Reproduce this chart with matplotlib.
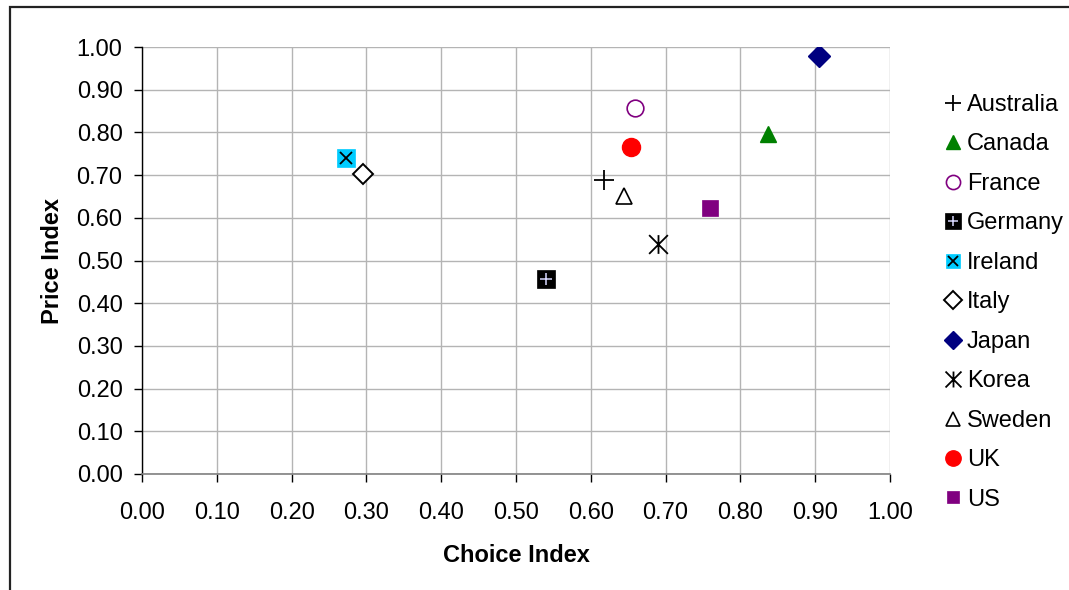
import matplotlib
matplotlib.use("Agg")
import matplotlib.pyplot as plt
from matplotlib.path import Path
from matplotlib.patches import Rectangle

plt.rcParams["font.family"] = ["Liberation Sans", "DejaVu Sans"]

countries = ["Australia", "Canada", "France", "Germany", "Ireland", "Italy",
             "Japan", "Korea", "Sweden", "UK", "US"]
choice_index = [0.617, 0.837, 0.659, 0.540, 0.273, 0.295, 0.905, 0.690, 0.645, 0.654, 0.759]
price_index = [0.688, 0.797, 0.857, 0.457, 0.741, 0.703, 0.979, 0.539, 0.651, 0.766, 0.623]
tick_values = [i / 10 for i in range(11)]
tick_labels = [f"{v:.2f}" for v in tick_values]

# asterisk-like marker: an X with a vertical bar through it
star_path = Path([(0, -1), (0, 1), (-1, -1), (1, 1), (-1, 1), (1, -1)],
                 [Path.MOVETO, Path.LINETO, Path.MOVETO, Path.LINETO,
                  Path.MOVETO, Path.LINETO])

# each series: list of overlaid marker layers
styles = {
    "Australia": [dict(marker="+", ms=14, mec="black", mew=1.3)],
    "Canada": [dict(marker="^", ms=12, mfc="#008000", mec="#008000", mew=1)],
    "France": [dict(marker="o", ms=12, mfc="white", mec="#800080", mew=1.2)],
    "Germany": [dict(marker="s", ms=13, mfc="black", mec="black", mew=0.5),
                dict(marker="+", ms=9, mec="#D8D8FF", mew=1.1)],
    "Ireland": [dict(marker="s", ms=12.5, mfc="#00CCFF", mec="#00CCFF", mew=0.5),
                dict(marker="x", ms=8.5, mec="black", mew=1.3)],
    "Italy": [dict(marker="D", ms=10.3, mfc="white", mec="black", mew=1.4)],
    "Japan": [dict(marker="D", ms=10.8, mfc="#000080", mec="#000080", mew=1)],
    "Korea": [dict(marker=star_path, ms=13.5, mfc="none", mec="black", mew=1.3)],
    "Sweden": [dict(marker="^", ms=12, mfc="white", mec="black", mew=1.2)],
    "UK": [dict(marker="o", ms=13, mfc="#FF0000", mec="#FF0000", mew=1)],
    "US": [dict(marker="s", ms=11, mfc="#800080", mec="#800080", mew=0.5)],
}

fig = plt.figure(figsize=(10.69, 5.90), dpi=100)
ax = fig.add_axes([142 / 1069, 116 / 590, 748 / 1069, 427 / 590])

handles = []
for name, x, y in zip(countries, choice_index, price_index):
    layers = []
    for st in styles[name]:
        (ln,) = ax.plot([x], [y], linestyle="none", zorder=3, **st)
        layers.append(ln)
    handles.append(tuple(layers))

ax.set_xlim(0, 1)
ax.set_ylim(0, 1)
ax.set_xticks(tick_values)
ax.set_yticks(tick_values)
ax.set_xticklabels(tick_labels)
ax.set_yticklabels(tick_labels)
ax.tick_params(axis="both", labelsize=17, colors="black", direction="out",
               width=1, length=6)
ax.tick_params(axis="x", pad=14)
ax.tick_params(axis="y", pad=8)

ax.grid(True, color="#b4b4b4", linewidth=1.0)
ax.set_axisbelow(True)
for side in ("top", "right"):
    ax.spines[side].set_visible(False)
ax.spines["left"].set_color("black")
ax.spines["left"].set_linewidth(1.0)
ax.spines["bottom"].set_color("#808080")
ax.spines["bottom"].set_linewidth(1.2)

ax.set_xlabel("Choice Index", fontsize=17, fontweight="bold")
ax.set_ylabel("Price Index", fontsize=17, fontweight="bold")
ax.xaxis.set_label_coords(0.5, -0.165)
ax.yaxis.set_label_coords(-0.104, 0.5)

leg = fig.legend(handles, countries, loc="upper left",
                 bbox_to_anchor=(941 / 1069, (590 - 94) / 590),
                 frameon=False, fontsize=17, borderpad=0, borderaxespad=0,
                 handlelength=1.0, handletextpad=0.1, labelspacing=0.74,
                 markerscale=0.85)

# outer chart frame
fig.patches.append(Rectangle((10 / 1069, -0.05), 1.2, (590 - 7) / 590 + 0.05,
                             transform=fig.transFigure, fill=False,
                             edgecolor="#222222", linewidth=1.6))

fig.savefig("out.png", dpi=100)
